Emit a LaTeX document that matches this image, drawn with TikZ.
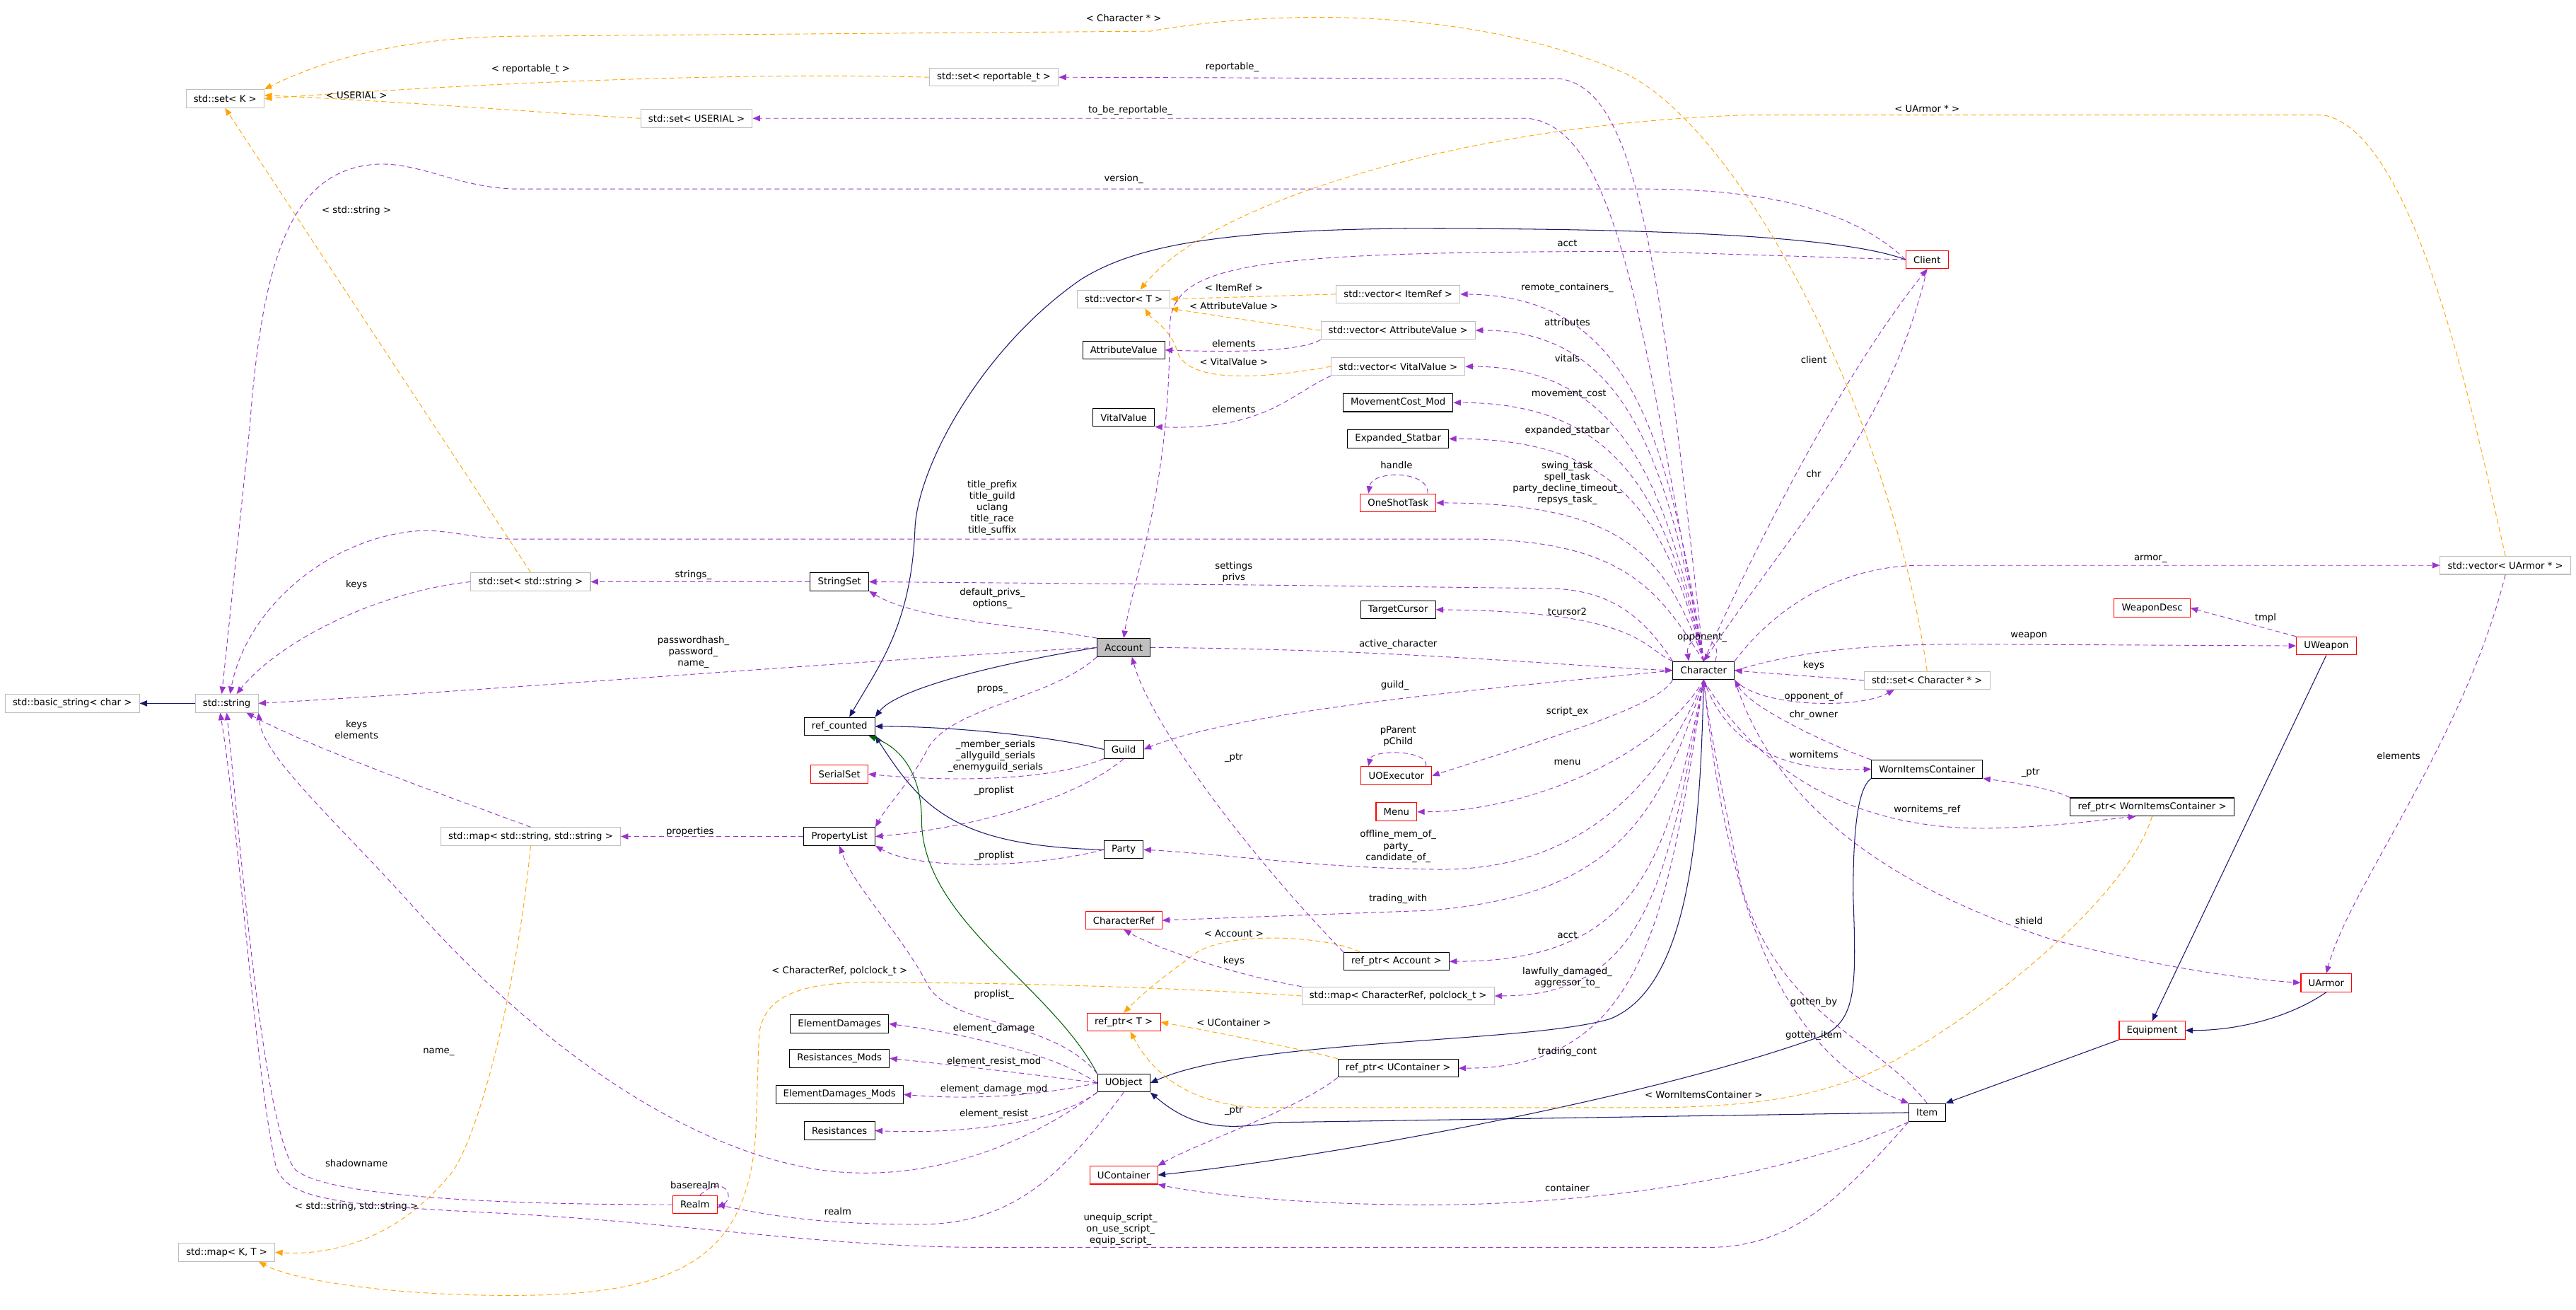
\documentclass[tikz,border=0pt]{standalone}
\usepackage{fontspec}
\setmainfont{DejaVu Sans}
\usetikzlibrary{arrows.meta}
\newcommand\dxf{\fontsize{5.7}{6.9}\selectfont}
\definecolor{cU}{HTML}{9A32CD}
\definecolor{cT}{HTML}{FFA500}
\definecolor{cI}{HTML}{191970}
\definecolor{cG}{HTML}{006400}
\definecolor{cB}{HTML}{BFBFBF}
\begin{document}
\begin{tikzpicture}[x=1pt,y=-1pt,
 box/.style={draw,font=\dxf,inner xsep=4.6pt,inner ysep=0pt,minimum height=11pt,line width=0.45pt},
 cls/.style={box,draw=black},
 tpl/.style={box,draw=cB},
 rcls/.style={box,draw=red},
 lab/.style={font=\dxf,inner sep=0pt,align=center},
 U/.style={draw=cU,line width=0.4pt,dash pattern=on 3pt off 2pt,arrows={-{Triangle[length=4.5pt,width=3.6pt,fill=cU]}}},
 T/.style={draw=cT,line width=0.4pt,dash pattern=on 3pt off 2pt,arrows={-{Triangle[length=4.5pt,width=3.6pt,fill=cT]}}},
 I/.style={draw=cI,line width=0.45pt,arrows={-{Triangle[length=4.5pt,width=3.6pt,fill=cI]}}},
 G/.style={draw=cG,line width=0.45pt,arrows={-{Triangle[length=4.5pt,width=3.6pt,fill=cG]}}}]
\useasboundingbox (0,0) rectangle (1568,797);
\fill[white] (0,0) rectangle (1568,797);
% nodes
\node[tpl] (sK) at (137,60) {std::set< K >};
\node[tpl] (sRep) at (605,47) {std::set< reportable\_t >};
\node[tpl] (sU) at (424,72) {std::set< USERIAL >};
\node[tpl] (vT) at (684,182) {std::vector< T >};
\node[tpl] (vIR) at (851,179) {std::vector< ItemRef >};
\node[tpl] (vA) at (851,201) {std::vector< AttributeValue >};
\node[tpl] (vV) at (851,223) {std::vector< VitalValue >};
\node[cls] (AV) at (684,213) {AttributeValue};
\node[cls] (VV) at (684,254) {VitalValue};
\node[cls] (MC) at (851,245) {MovementCost\_Mod};
\node[cls] (ES) at (851,267) {Expanded\_Statbar};
\node[rcls] (OST) at (851,306) {OneShotTask};
\node[cls] (SS) at (511,354) {StringSet};
\node[tpl] (sSS) at (323,354) {std::set< std::string >};
\node[cls] (TC) at (851,371) {TargetCursor};
\node[cls,fill=cB] (acc) at (684,394) {Account};
\node[cls] (ch) at (1037,408) {Character};
\node[tpl] (std) at (138,428) {std::string};
\node[tpl] (bs) at (44,428) {std::basic\_string< char >};
\node[cls] (ref) at (511,442) {ref\_counted};
\node[cls] (guild) at (684,456) {Guild};
\node[rcls] (SSet) at (511,471) {SerialSet};
\node[tpl] (mSS) at (323,509) {std::map< std::string, std::string >};
\node[cls] (PL) at (511,509) {PropertyList};
\node[cls] (party) at (684,517) {Party};
\node[rcls] (uoe) at (850,472) {UOExecutor};
\node[rcls] (menu) at (850,494) {Menu};
\node[rcls] (cref) at (684,560) {CharacterRef};
\node[cls] (rpA) at (850,585) {ref\_ptr< Account >};
\node[tpl] (mCR) at (851,606) {std::map< CharacterRef, polclock\_t >};
\node[rcls] (rpT) at (684,622) {ref\_ptr< T >};
\node[cls] (ED) at (511,623) {ElementDamages};
\node[cls] (RM) at (511,644) {Resistances\_Mods};
\node[cls] (EDM) at (511,666) {ElementDamages\_Mods};
\node[cls] (Res) at (511,688) {Resistances};
\node[cls] (uo) at (684,659) {UObject};
\node[cls] (rpU) at (851,650) {ref\_ptr< UContainer >};
\node[rcls] (uc) at (684,715) {UContainer};
\node[rcls] (realm) at (423,733) {Realm};
\node[tpl] (mKT) at (138,762) {std::map< K, T >};
\node[cls] (item) at (1173,677) {Item};
\node[rcls] (eq) at (1310,627) {Equipment};
\node[rcls] (ua) at (1416,598) {UArmor};
\node[cls] (rpW) at (1310,491) {ref\_ptr< WornItemsContainer >};
\node[cls] (wic) at (1173,468) {WornItemsContainer};
\node[tpl] (sCP) at (1173,414) {std::set< Character * >};
\node[rcls] (uw) at (1416,393) {UWeapon};
\node[rcls] (wd) at (1310,370) {WeaponDesc};
\node[tpl] (vUA) at (1525,344) {std::vector< UArmor * >};
\node[rcls] (client) at (1173,158) {Client};
% ---------- inheritance (navy / green)
\draw[I] (std.west) -- (bs.east);
\draw[I] (client.west) .. controls (1120,143) and (1000,139) .. (858,139) .. controls (740,140) and (690,150) .. (658,170) .. controls (600,210) and (560,280) .. (557,320) .. controls (555,380) and (535,405) .. ([xshift=6]ref.north);
\draw[I] (acc.west) .. controls (600,405) and (545,420) .. (ref.north east);
\draw[I] (guild.west) .. controls (640,448) and (580,442) .. (ref.east);
\draw[I] (party.west) .. controls (580,515) and (560,490) .. (ref.south east);
\draw[G] (uo.north west) .. controls (640,600) and (562,560) .. (561,500) .. controls (561,470) and (548,455) .. ([xshift=-4]ref.south east);
\draw[I] (ch.south) .. controls (1035,500) and (1030,600) .. (980,620) .. controls (930,635) and (760,632) .. (uo.east);
\draw[I] (item.west) -- (776,683) .. controls (745,688) and (725,686) .. (uo.south east);
\draw[I] (wic.south west) .. controls (1130,480) and (1128,510) .. (1128,545) .. controls (1130,600) and (1130,620) .. (1110,630) .. controls (1000,670) and (800,705) .. (uc.east);
\draw[I] (uw.south) -- (eq.north);
\draw[I] (ua.south) .. controls (1400,615) and (1370,627) .. (eq.east);
\draw[I] (eq.south west) -- (item.north east);
% ---------- templates (orange)
\draw[T] (sRep.west) .. controls (450,44) and (300,50) .. (sK.east);
\draw[T] (sU.west) .. controls (350,70) and (250,62) .. ([yshift=2]sK.east);
\node[lab] (l1) at (323,42) {< reportable\_t >};
\node[lab] (l2) at (217,58) {< USERIAL >};
\draw[T] (sCP.north) .. controls (1150,250) and (1060,80) .. (990,45) .. controls (900,5) and (780,5) .. (700,19) -- (320,22) .. controls (250,22) and (200,35) .. (sK.north east);
\node[lab] (l3) at (684,11) {< Character * >};
\draw[T] (sSS.north) -- (sK.south);
\node[lab] (l4) at (217,128) {< std::string >};
\draw[T] (vIR.west) -- (vT.east);
\node[lab] (l5) at (751,175) {< ItemRef >};
\draw[T] (vA.west) .. controls (780,198) and (740,192) .. (vT.south east);
\node[lab] (l6) at (751,186) {< AttributeValue >};
\draw[T] (vV.west) .. controls (760,232) and (720,232) .. (716,212) .. controls (712,200) and (700,193) .. ([xshift=13]vT.south);
\node[lab] (l7) at (751,220) {< VitalValue >};
\draw[T] (vUA.north) .. controls (1505,250) and (1470,80) .. (1414,70) -- (1064,70) .. controls (900,75) and (740,120) .. ([xshift=10]vT.north);
\node[lab] (l8) at (1173,66) {< UArmor * >};
\draw[T] (mCR.west) .. controls (700,600) and (600,598) .. (554,598) .. controls (500,596) and (465,600) .. (462,630) -- (460,690) .. controls (455,760) and (420,785) .. (330,788) .. controls (250,790) and (180,780) .. ([xshift=-10]mKT.south east);
\node[lab] (l9) at (511,591) {< CharacterRef, polclock\_t >};
\draw[T] (mSS.south) .. controls (315,600) and (290,700) .. (272,717) .. controls (240,755) and (200,764) .. (mKT.east);
\node[lab] (l10) at (217,734) {< std::string, std::string >};
\draw[T] ([xshift=10]rpA.north west) .. controls (810,570) and (745,565) .. (725,582) .. controls (712,592) and (700,600) .. (rpT.north);
\node[lab] (l11) at (751,568) {< Account >};
\draw[T] (rpU.north west) .. controls (800,640) and (740,628) .. (rpT.east);
\node[lab] (l12) at (751,622) {< UContainer >};
\draw[T] (rpW.south) .. controls (1290,560) and (1160,650) .. (1122,659) .. controls (1090,670) and (1050,674) .. (1000,674) -- (767,674) .. controls (720,672) and (700,650) .. ([xshift=4]rpT.south);
\node[lab] (l13) at (1037,666) {< WornItemsContainer >};
% ---------- usage (purple)
\draw[U] (ch.north) .. controls (1010,150) and (995,55) .. (950,48) -- (sRep.east);
\node[lab] (u1) at (750,41) {reportable\_};
\draw[U] (ch.north) .. controls (1000,200) and (985,78) .. (930,72) -- (sU.east);
\node[lab] (u2) at (688,67) {to\_be\_reportable\_};
\draw[U] (client.west) .. controls (1120,120) and (1050,115) .. (1000,115) -- (316,115) .. controls (280,115) and (255,98) .. (228,100) .. controls (180,104) and (160,150) .. (152,260) -- ([xshift=-3]std.north);
\node[lab] (u3) at (684,109) {version\_};
\draw[U] (client.west) -- (1000,153) .. controls (760,153) and (712,160) .. (712,200) .. controls (712,300) and (690,350) .. (acc.north);
\node[lab] (u4) at (954,148) {acct};
\draw[U] (ch.north) .. controls (1070,330) and (1120,230) .. (client.south);
\node[lab] (u5) at (1104,219) {client};
\draw[U] (client.south) .. controls (1150,260) and (1100,310) .. (ch.north);
\node[lab] (u6) at (1104,288) {chr};
\draw[U] (ch.north) .. controls (1015,260) and (990,180) .. (vIR.east);
\node[lab] (u7) at (954,175) {remote\_containers\_};
\draw[U] (ch.north) .. controls (1015,280) and (990,201) .. (vA.east);
\node[lab] (u8) at (954,196) {attributes};
\draw[U] (ch.north) .. controls (1015,300) and (990,223) .. (vV.east);
\node[lab] (u9) at (954,218) {vitals};
\draw[U] (ch.north) .. controls (1015,310) and (990,245) .. (MC.east);
\node[lab] (u10) at (955,240) {movement\_cost};
\draw[U] (ch.north) .. controls (1015,320) and (990,267) .. (ES.east);
\node[lab] (u11) at (954,262) {expanded\_statbar};
\draw[U] (ch.north) .. controls (1015,340) and (990,306) .. (OST.east);
\node[lab] (u12) at (954,294) {swing\_task\\spell\_task\\party\_decline\_timeout\_\\repsys\_task\_};
\draw[U] ([xshift=18]OST.north) .. controls (870,286) and (835,286) .. ([xshift=-18]OST.north);
\node[lab] (u13) at (850,283) {handle};
\draw[U] (ch.north) .. controls (1010,360) and (990,330) .. (900,328) -- (310,328) .. controls (285,327) and (270,322) .. (255,323) .. controls (200,327) and (150,370) .. ([xshift=2]std.north);
\node[lab] (u14) at (604,309) {title\_prefix\\title\_guild\\uclang\\title\_race\\title\_suffix};
\draw[U] (ch.north west) .. controls (1000,375) and (980,358) .. (940,358) -- (770,356) -- (SS.east);
\node[lab] (u15) at (751,348) {settings\\privs};
\draw[U] (sSS.west) .. controls (230,360) and (170,390) .. ([xshift=6]std.north);
\node[lab] (u16) at (217,356) {keys};
\draw[U] (SS.west) -- (sSS.east);
\node[lab] (u17) at (422,350) {strings\_};
\draw[U] (acc.north west) .. controls (620,380) and (560,378) .. (SS.south east);
\node[lab] (u18) at (604,364) {default\_privs\_\\options\_};
\draw[U] (ch.north west) .. controls (1000,395) and (1000,372) .. (TC.east);
\node[lab] (u19) at (954,372) {tcursor2};
\draw[U] (acc.west) .. controls (550,400) and (300,420) .. (std.east);
\node[lab] (u20) at (422,397) {passwordhash\_\\password\_\\name\_};
\draw[U] (acc.east) .. controls (850,395) and (950,405) .. (ch.west);
\node[lab] (u21) at (851,392) {active\_character};
\draw[U] (ch.west) .. controls (950,415) and (760,430) .. (guild.east);
\node[lab] (u22) at (849,417) {guild\_};
\draw[U] (acc.south west) .. controls (640,425) and (580,430) .. (565,455) .. controls (555,475) and (540,490) .. (PL.north east);
\node[lab] (u23) at (604,420) {props\_};
\draw[U] (rpA.north west) .. controls (760,520) and (700,440) .. ([xshift=5]acc.south);
\node[lab] (u24) at (751,461) {\_ptr};
\draw[U] (guild.south west) .. controls (640,475) and (580,476) .. (SSet.east);
\node[lab] (u25) at (606,460) {\_member\_serials\\\_allyguild\_serials\\\_enemyguild\_serials};
\draw[U] (guild.south) .. controls (650,490) and (580,505) .. (PL.east);
\node[lab] (u26) at (605,481) {\_proplist};
\draw[U] (party.west) .. controls (630,528) and (560,530) .. (PL.south east);
\node[lab] (u27) at (605,521) {\_proplist};
\draw[U] (PL.west) -- (mSS.east);
\node[lab] (u65) at (420,506) {properties};
\draw[U] (mSS.north) .. controls (260,480) and (190,455) .. ([xshift=12]std.south);
\node[lab] (u66) at (217,444) {keys\\elements};
\draw[U] (ch.south west) .. controls (1010,430) and (940,450) .. (uoe.east);
\node[lab] (u28) at (954,433) {script\_ex};
\draw[U] ([xshift=18]uoe.north) .. controls (870,456) and (835,456) .. ([xshift=-17]uoe.north);
\node[lab] (u29) at (851,448) {pParent\\pChild};
\draw[U] (ch.south) .. controls (1010,460) and (930,494) .. (menu.east);
\node[lab] (u30) at (954,464) {menu};
\draw[U] (ch.south) .. controls (1010,480) and (960,530) .. (875,529) .. controls (800,528) and (750,520) .. (party.east);
\node[lab] (u31) at (851,515) {offline\_mem\_of\_\\party\_\\candidate\_of\_};
\draw[U] (ch.south) .. controls (1010,500) and (980,545) .. (870,554) -- (cref.east);
\node[lab] (u32) at (851,547) {trading\_with};
\draw[U] (ch.south) .. controls (1015,520) and (1000,585) .. (rpA.east);
\node[lab] (u33) at (954,569) {acct};
\draw[U] (mCR.north west) .. controls (760,595) and (710,580) .. (cref.south);
\node[lab] (u34) at (751,585) {keys};
\draw[U] (ch.south) .. controls (1015,540) and (1000,606) .. (mCR.east);
\node[lab] (u35) at (954,595) {lawfully\_damaged\_\\aggressor\_to\_};
\draw[U] (uo.north west) .. controls (640,620) and (580,625) .. (565,600) .. controls (550,570) and (520,540) .. (PL.south);
\node[lab] (u36) at (605,605) {proplist\_};
\draw[U] (uo.west) .. controls (640,640) and (580,628) .. (ED.east);
\node[lab] (u37) at (605,626) {element\_damage};
\draw[U] (uo.west) .. controls (640,655) and (580,648) .. (RM.east);
\node[lab] (u38) at (605,646) {element\_resist\_mod};
\draw[U] (uo.west) .. controls (640,665) and (600,670) .. (EDM.east);
\node[lab] (u39) at (605,663) {element\_damage\_mod};
\draw[U] (uo.south west) .. controls (640,685) and (580,690) .. (Res.east);
\node[lab] (u40) at (605,678) {element\_resist};
\draw[U] (ch.south) .. controls (1015,560) and (1000,650) .. (rpU.east);
\node[lab] (u41) at (954,640) {trading\_cont};
\draw[U] (rpU.south west) .. controls (790,675) and (730,695) .. (uc.north east);
\node[lab] (u42) at (751,676) {\_ptr};
\draw[U] (uo.south west) .. controls (620,700) and (560,720) .. (500,712) .. controls (420,700) and (330,640) .. (250,550) .. controls (200,495) and (160,460) .. (std.south east);
\node[lab] (u43) at (267,640) {name\_};
\draw[U] (uo.south) .. controls (650,710) and (620,745) .. (560,745) .. controls (500,745) and (470,740) .. (realm.east);
\node[lab] (u44) at (510,737) {realm};
\draw[U] ([xshift=3]realm.north) .. controls (440,714) and (448,728) .. ([yshift=-2]realm.east);
\node[lab] (u45) at (423,721) {baserealm};
\draw[U] (realm.west) .. controls (300,733) and (200,728) .. (180,712) .. controls (160,690) and (145,500) .. (std.south);
\node[lab] (u46) at (217,708) {shadowname};
\draw[U] (item.south west) .. controls (1120,730) and (1090,759) .. (1040,759) -- (600,759) .. controls (500,759) and (420,744) .. (300,738) .. controls (200,733) and (175,729) .. (168,710) .. controls (155,650) and (145,500) .. ([xshift=-4]std.south);
\node[lab] (u47) at (682,748) {unequip\_script\_\\on\_use\_script\_\\equip\_script\_};
\draw[U] (item.south west) .. controls (1080,720) and (950,735) .. (850,733) .. controls (780,732) and (730,726) .. (uc.south east);
\node[lab] (u48) at (954,723) {container};
\draw[U] (ch.south) .. controls (1050,540) and (1080,640) .. (item.north west);
\node[lab] (u49) at (1104,630) {gotten\_item};
\draw[U] (item.north) .. controls (1140,630) and (1085,620) .. (1060,540) .. controls (1048,480) and (1040,440) .. (ch.south);
\node[lab] (u50) at (1104,610) {gotten\_by};
\draw[U] (sCP.west) .. controls (1110,412) and (1080,410) .. (ch.east);
\node[lab] (u51) at (1104,405) {keys};
\draw[U] (ch.south east) .. controls (1070,430) and (1130,432) .. ([xshift=-20]sCP.south);
\node[lab] (u52) at (1104,424) {opponent\_of};
\draw[U] (wic.north west) .. controls (1110,452) and (1065,430) .. (ch.south east);
\node[lab] (u53) at (1104,435) {chr\_owner};
\draw[U] (ch.south) .. controls (1050,450) and (1080,470) .. (wic.west);
\node[lab] (u54) at (1104,459) {wornitems};
\draw[U] (ch.south) .. controls (1070,470) and (1130,505) .. (1210,504) .. controls (1250,503) and (1270,500) .. ([xshift=-10]rpW.south);
\node[lab] (u55) at (1173,493) {wornitems\_ref};
\draw[U] (rpW.north west) .. controls (1250,480) and (1225,476) .. (wic.south east);
\node[lab] (u56) at (1236,470) {\_ptr};
\draw[U] (ch.south east) .. controls (1080,490) and (1150,540) .. (1250,572) .. controls (1320,590) and (1370,596) .. (ua.west);
\node[lab] (u57) at (1235,560) {shield};
\draw[U] (ch.north east) .. controls (1080,370) and (1120,344) .. (1170,344) -- (vUA.west);
\node[lab] (u58) at (1309,340) {armor\_};
\draw[U] (ch.east) .. controls (1100,395) and (1140,392) .. (1200,392) -- (uw.west);
\node[lab] (u59) at (1235,387) {weapon};
\draw[U] (uw.north west) -- (wd.east);
\node[lab] (u60) at (1379,376) {tmpl};
\draw[U] (vUA.south) .. controls (1500,450) and (1430,540) .. (ua.north);
\node[lab] (u61) at (1460,460) {elements};
\draw[U] ([xshift=7]ch.north) .. controls (1050,385) and (1025,385) .. ([xshift=-9]ch.north);
\node[lab] (u62) at (1036,388) {opponent\_};
\draw[U] (vA.south west) .. controls (790,215) and (740,214) .. (AV.east);
\node[lab] (u63) at (751,209) {elements};
\draw[U] (vV.south west) .. controls (785,240) and (770,262) .. (VV.south east);
\node[lab] (u64) at (751,249) {elements};
\end{tikzpicture}
\end{document}
